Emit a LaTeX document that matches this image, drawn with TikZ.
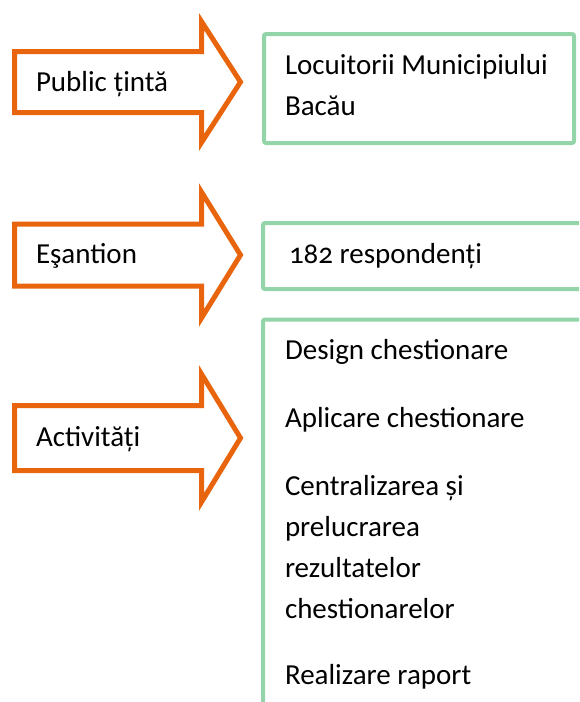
\documentclass[tikz,border=0pt]{standalone}
\usepackage{fontspec}
\setmainfont{Carlito}
\definecolor{arrorange}{HTML}{E8650E}
\definecolor{boxgreen}{HTML}{94D4A9}
\tikzset{
  arrowline/.style={draw=arrorange, line width=5pt, line join=miter, fill=white},
  boxline/.style={draw=boxgreen, line width=4pt, rounded corners=2pt},
  txt/.style={anchor=base west, inner sep=0pt, outer sep=0pt, font=\fontsize{29}{41}\selectfont, text=black},
  pics/bigarrow/.style n args={2}{code={
    \draw[arrowline] (14.5,-#1) -- (201.5,-#1) -- (201.5,-#2) -- (240.5,0)
      -- (201.5,#2) -- (201.5,#1) -- (14.5,#1) -- cycle;
  }}
}
\begin{document}
\begin{tikzpicture}[x=1pt,y=-1pt]
\useasboundingbox (0,0) rectangle (579,702);
\begin{scope}
\clip (0,0) rectangle (579,702);
% arrows
\pic (a1) at (0,82) {bigarrow={30.5}{60.5}};
\pic (a2) at (0,255) {bigarrow={31}{63}};
\pic (a3) at (0,438) {bigarrow={32.5}{64}};
% boxes
\draw[boxline] (264,34) rectangle (574,143);
\draw[boxline] (263,223) rectangle (584,289);
\draw[boxline] (263,710) -- (263,319.5) -- (584,319.5);
\end{scope}
% arrow labels
\node[txt] (t1) at (36,91) {Public țintă};
\node[txt] (t2) at (36,263) {Eşantion};
\node[txt] (t3) at (36,446) {Activități};
% box texts
\node[txt] (b1a) at (285,74) {Locuitorii Municipiului};
\node[txt] (b1b) at (285,115) {Bacău};
\node[txt] (b2) at (289,263) {\addfontfeatures{Numbers=OldStyle}182 respondenți};
\node[txt] (c1) at (285,359) {Design chestionare};
\node[txt] (c2) at (285,427) {Aplicare chestionare};
\node[txt] (c3) at (285,495) {Centralizarea și};
\node[txt] (c4) at (285,536) {prelucrarea};
\node[txt] (c5) at (285,577) {rezultatelor};
\node[txt] (c6) at (285,618) {chestionarelor};
\node[txt] (c7) at (285,684) {Realizare raport};
\end{tikzpicture}
\end{document}
